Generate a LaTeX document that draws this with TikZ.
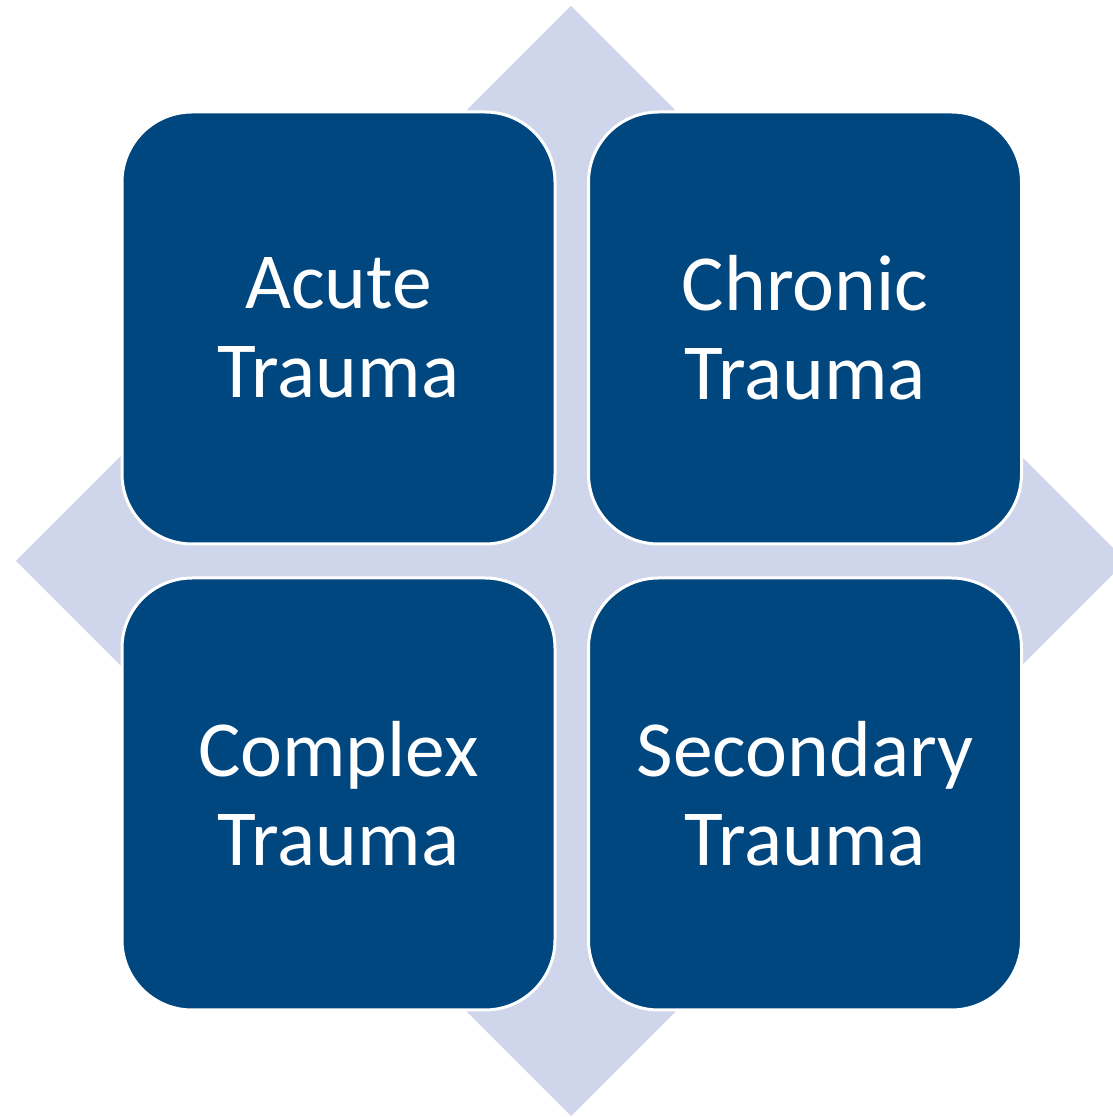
\documentclass[tikz,border=0pt]{standalone}
\usepackage{fontspec}
\setmainfont{Carlito}
\definecolor{diamondc}{HTML}{CFD5EA}
\definecolor{boxc}{HTML}{00467F}
\begin{document}
\begin{tikzpicture}[x=1pt,y=1pt,
  quad/.style={rectangle, rounded corners=70pt, minimum width=433pt, minimum height=432pt,
    fill=boxc, draw=white, line width=3pt, text=white, align=center,
    font=\fontsize{79.5}{89}\selectfont, inner sep=0pt}]
\useasboundingbox (0,0) rectangle (1113,1117);
\clip (0,0) rectangle (1113,1117);
\fill[diamondc] (571,1111) -- (1126,556) -- (571,1) -- (16,556) -- cycle;
\node[quad] (acute) at (338.5,789) {Acute\\Trauma};
\node[quad] (chronic) at (805,789) {Chronic\\Trauma};
\node[quad] (complex) at (338.5,323) {Complex\\Trauma};
\node[quad] (secondary) at (805,323) {Secondary\\Trauma};
\end{tikzpicture}
\end{document}
